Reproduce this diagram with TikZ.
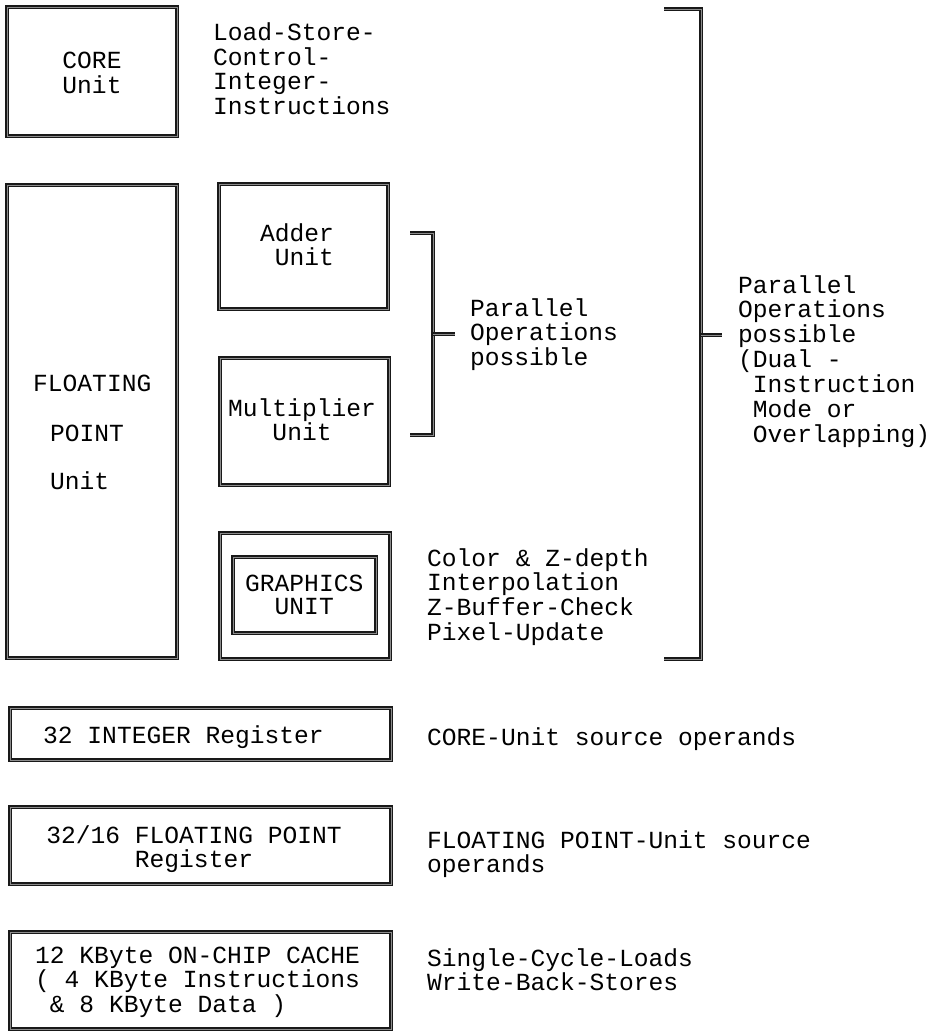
\documentclass[tikz,border=0pt]{standalone}
\usepackage{fontspec}
\setmonofont{Liberation Mono}
\newcommand\ltab[1]{\begin{tabular}[t]{@{}l@{}}#1\end{tabular}}
\newcommand\ctab[1]{\begin{tabular}[t]{@{}c@{}}#1\end{tabular}}
\newcommand\blk{\phantom{X}}
\begin{document}
\begin{tikzpicture}[x=1pt,y=-1pt,
  font=\ttfamily\fontsize{24.6}{23.5}\selectfont,
  box/.style={rectangle, draw=black!90, line width=1.2pt, double=black!45, double distance=0.8pt, inner sep=0pt},
  lbl/.style={anchor=base west, inner sep=0pt},
  clbl/.style={anchor=base, inner sep=0pt},
  br/.style={draw=black!90, line width=1.2pt, double=black!45, double distance=0.8pt}]
\useasboundingbox (0,0) rectangle (930,1032);

% boxes
\node[box, minimum width=170pt, minimum height=129pt] (core) at (92,71.5) {};
\node[box, minimum width=170pt, minimum height=473pt] (fpu) at (92,421.5) {};
\node[box, minimum width=169pt, minimum height=125pt] (adder) at (303.5,246.5) {};
\node[box, minimum width=169pt, minimum height=127pt] (mult) at (304.5,421.5) {};
\node[box, minimum width=170pt, minimum height=126pt] (gfxo) at (305,596) {};
\node[box, minimum width=143pt, minimum height=76pt] (gfxi) at (304.5,595) {};
\node[box, minimum width=381pt, minimum height=52pt] (intreg) at (200.5,734) {};
\node[box, minimum width=381pt, minimum height=77pt] (fpreg) at (200.5,845.5) {};
\node[box, minimum width=381pt, minimum height=97pt] (cache) at (200.5,980.5) {};

% box texts
\node[clbl] (coret) at (92,69) {\ctab{CORE\\Unit}};
\node[lbl] (fpt1) at (33,391) {FLOATING};
\node[lbl] (fpt2) at (50,441) {POINT};
\node[lbl] (fpt3) at (50,489) {Unit};
\node[lbl] (addert) at (260,241) {\ltab{Adder\\\blk Unit}};
\node[lbl] (multt) at (228,416) {\ltab{Multiplier\\\blk\blk\blk Unit}};
\node[lbl] (gfxt) at (245,591) {\ltab{GRAPHICS\\\blk\blk UNIT}};
\node[lbl] (intregt) at (43,743) {32 INTEGER Register};
\node[clbl] (fpregt) at (194,843) {\ctab{32/16 FLOATING POINT\\Register}};
\node[lbl] (cachet) at (35,963) {\ltab{12 KByte ON-CHIP CACHE\\( 4 KByte Instructions\\\blk\&\blk8 KByte Data )}};

% descriptions
\node[lbl] (cored) at (213,41) {\ltab{Load-Store-\\Control-\\Integer-\\Instructions}};
\node[lbl] (pard) at (470,316) {\ltab{Parallel\\Operations\\possible}};
\node[lbl] (bigd) at (738,293) {\ltab{Parallel\\Operations\\possible\\(Dual -\\\blk Instruction\\\blk Mode or\\\blk Overlapping)}};
\node[lbl] (gfxd) at (427,566) {\ltab{Color \& Z-depth\\Interpolation\\Z-Buffer-Check\\Pixel-Update}};
\node[lbl] (intd) at (427,745) {CORE-Unit source operands};
\node[lbl] (fpd) at (427,848) {\ltab{FLOATING POINT-Unit source\\operands}};
\node[lbl] (cached) at (427,966) {\ltab{Single-Cycle-Loads\\Write-Back-Stores}};

% small bracket
\coordinate (sb1) at (410,233);
\coordinate (sb2) at (433,233);
\coordinate (sb3) at (433,435);
\coordinate (sb4) at (410,435);
\coordinate (sbm) at (433,334);
\coordinate (sbt) at (455,334);
\draw[br] (sb1) -- (sb2) -- (sb3) -- (sb4);
\draw[br] (sbm) -- (sbt);

% big bracket
\coordinate (bb1) at (664,9);
\coordinate (bb2) at (701,9);
\coordinate (bb3) at (701,659);
\coordinate (bb4) at (664,659);
\coordinate (bbm) at (701,335);
\coordinate (bbt) at (722,335);
\draw[br] (bb1) -- (bb2) -- (bb3) -- (bb4);
\draw[br] (bbm) -- (bbt);
\end{tikzpicture}
\end{document}
